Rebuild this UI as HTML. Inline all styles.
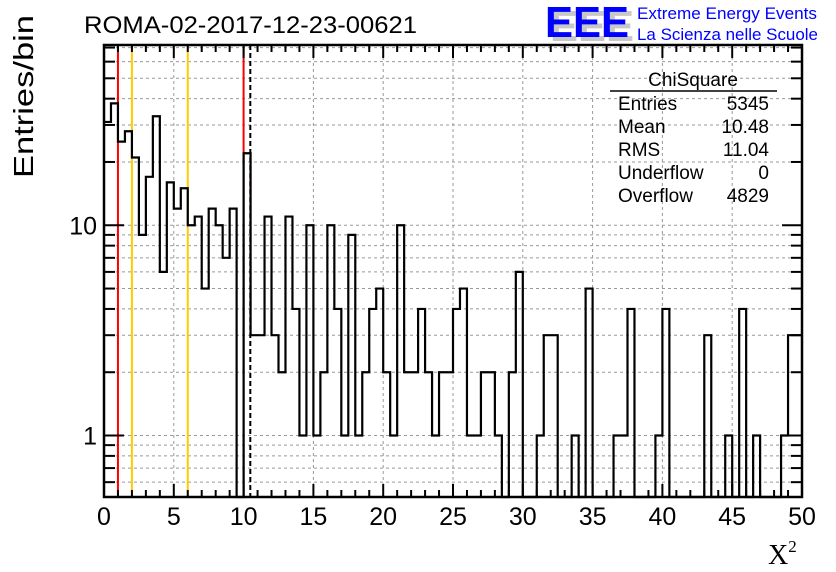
<!DOCTYPE html>
<html><head><meta charset="utf-8">
<style>
html,body{margin:0;padding:0;background:#fff;}
svg{display:block;font-family:"Liberation Sans",sans-serif;}
</style></head>
<body>
<svg id="chart" width="836" height="572" viewBox="0 0 836 572">
<rect x="0" y="0" width="836" height="572" fill="#fff"/>
<g id="grid"></g>
<g id="refs"></g>
<g id="hist"></g>
<g id="axes"></g>
<text x="84" y="33" font-size="24" fill="#000" textLength="333" lengthAdjust="spacingAndGlyphs">ROMA-02-2017-12-23-00621</text>
<text transform="translate(33,178) rotate(-90)" font-size="28" fill="#000" textLength="163" lengthAdjust="spacingAndGlyphs">Entries/bin</text>
<text x="768" y="564" font-size="28" font-family="'Liberation Serif',serif" fill="#000">X<tspan font-size="17" dy="-12">2</tspan></text>
<g>
<text x="550" y="41" font-size="44" font-weight="bold" fill="#c8c8c8" textLength="84" lengthAdjust="spacingAndGlyphs">EEE</text>
<text x="545" y="37" font-size="44" font-weight="bold" fill="#0000ff" textLength="84" lengthAdjust="spacingAndGlyphs">EEE</text>
<text x="637" y="19" font-size="17" fill="#0000ff" textLength="180" lengthAdjust="spacingAndGlyphs">Extreme Energy Events</text>
<text x="637" y="40" font-size="17" fill="#0000ff" textLength="181" lengthAdjust="spacingAndGlyphs">La Scienza nelle Scuole</text>
</g>
<g font-size="19" fill="#000">
<text x="693" y="86" text-anchor="middle">ChiSquare</text>
<line x1="610" y1="91" x2="777" y2="91" stroke="#000" stroke-width="1.5"/>
<text x="618" y="110">Entries</text><text x="769" y="110" text-anchor="end">5345</text>
<text x="618" y="133">Mean</text><text x="769" y="133" text-anchor="end">10.48</text>
<text x="618" y="156">RMS</text><text x="769" y="156" text-anchor="end">11.04</text>
<text x="618" y="179">Underflow</text><text x="769" y="179" text-anchor="end">0</text>
<text x="618" y="202">Overflow</text><text x="769" y="202" text-anchor="end">4829</text>
</g>
</svg>
<script>
const counts = [31,38,25,28,21,9,17,33,6,16,12,15,10,11,5,12,10,7,12,0,
22,3,3,11,3,2,11,4,1,10,1,2,10,4,1,9,1,2,4,5,
2,1,10,2,2,4,2,1,2,2,4,5,1,1,2,2,1,0,2,6,
0,0,1,3,3,0,0,1,0,5,0,0,0,1,1,4,0,0,0,1,
4,0,0,0,0,0,3,0,0,1,0,4,0,1,0,0,0,1,3,3];
const xTicks = [0,5,10,15,20,25,30,35,40,45,50];
const yMajor = [1,10];
const yMinor = [0.6,0.7,0.8,0.9,2,3,4,5,6,7,8,9,20,30,40,50,60,70];
const refRed = [1,10];
const refYellow = [2,6];
const meanValue = 10.48;
const xMin=0,xMax=50,yMin=0.51,yMax=72;
const L=104,R=802,T=45,B=497;
const NS='http://www.w3.org/2000/svg';
function X(v){return L+(v-xMin)/(xMax-xMin)*(R-L);}
function Y(v){return B-(Math.log10(v)-Math.log10(yMin))/(Math.log10(yMax)-Math.log10(yMin))*(B-T);}
function mk(tag,attrs,parent){const e=document.createElementNS(NS,tag);for(const k in attrs)e.setAttribute(k,attrs[k]);parent.appendChild(e);return e;}
const grid=document.getElementById('grid'),refs=document.getElementById('refs'),hist=document.getElementById('hist'),axes=document.getElementById('axes');
const gs={stroke:'#999','stroke-width':1,'stroke-dasharray':'3,3'};
xTicks.forEach(v=>{if(v>xMin&&v<xMax){const l=mk('line',Object.assign({x1:X(v),x2:X(v),y1:T,y2:B},gs),grid);

}});
yMajor.concat(yMinor).forEach(v=>{const l=mk('line',Object.assign({x1:L,x2:R,y1:Y(v),y2:Y(v)},gs),grid);

});
refRed.forEach(v=>{const l=mk('line',{x1:X(v),x2:X(v),y1:T,y2:B,stroke:'#ff0000','stroke-width':2},refs);

});
refYellow.forEach(v=>{const l=mk('line',{x1:X(v),x2:X(v),y1:T,y2:B,stroke:'#ffcc00','stroke-width':2},refs);

});
const bw=(xMax-xMin)/counts.length;
function hy(c){return c>0?Math.max(T,Y(c)):B;}
let d='M'+X(0)+','+hy(counts[0]);
counts.forEach((c,i)=>{const y=hy(c);d+=' L'+X(i*bw)+','+y+' L'+X((i+1)*bw)+','+y;});
const p=mk('path',{d:d,fill:'none',stroke:'#000','stroke-width':2.2,'stroke-linejoin':'miter'},hist);


const ml=mk('line',{x1:X(meanValue),x2:X(meanValue),y1:T,y2:B,stroke:'#000','stroke-width':2,'stroke-dasharray':'5,3'},hist);


const fr=mk('rect',{x:L,y:T,width:R-L,height:B-T,fill:'none',stroke:'#000','stroke-width':2.5},axes);


for(let v=xMin;v<=xMax;v+=1){const major=v%5===0;const len=major?13:7;
mk('line',{x1:X(v),x2:X(v),y1:B,y2:B-len,stroke:'#000','stroke-width':2},axes);
mk('line',{x1:X(v),x2:X(v),y1:T,y2:T+len,stroke:'#000','stroke-width':2},axes);}
xTicks.forEach(v=>{const t=mk('text',{x:X(v),y:525,'font-size':25,'text-anchor':'middle',fill:'#000'},axes);t.textContent=v;

});
yMajor.forEach(v=>{mk('line',{x1:L,x2:L+20,y1:Y(v),y2:Y(v),stroke:'#000','stroke-width':2},axes);
mk('line',{x1:R,x2:R-20,y1:Y(v),y2:Y(v),stroke:'#000','stroke-width':2},axes);
const t=mk('text',{x:L-7,y:Y(v)+9,'font-size':25,'text-anchor':'end',fill:'#000'},axes);t.textContent=v;

});
yMinor.forEach(v=>{mk('line',{x1:L,x2:L+11,y1:Y(v),y2:Y(v),stroke:'#000','stroke-width':2},axes);
mk('line',{x1:R,x2:R-11,y1:Y(v),y2:Y(v),stroke:'#000','stroke-width':2},axes);});
</script>
</body></html>
